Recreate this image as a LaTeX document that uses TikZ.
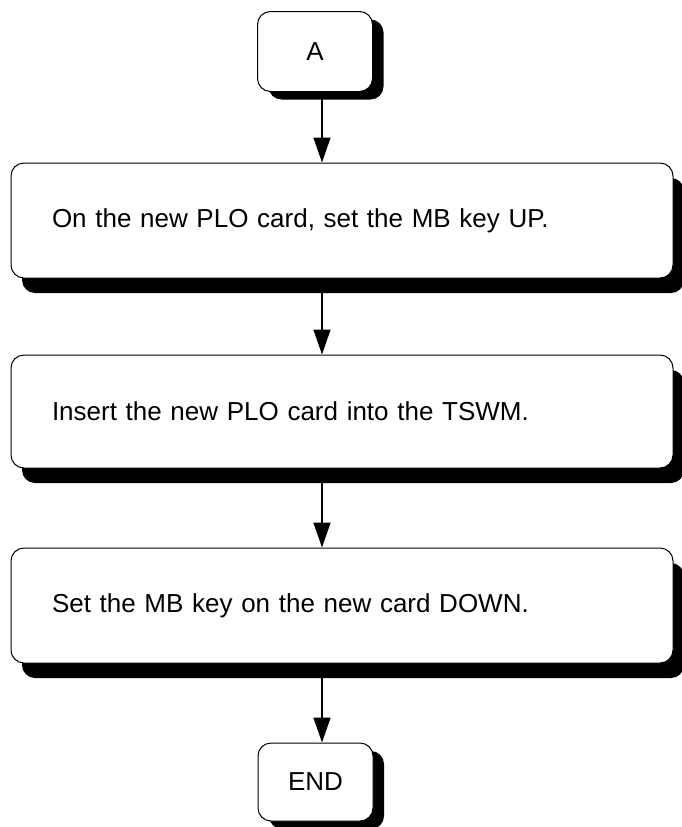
\documentclass[tikz,border=0pt]{standalone}
\usepackage{fontspec}
\setmainfont{Liberation Sans}
\usetikzlibrary{shadows,arrows.meta}
\begin{document}
\begin{tikzpicture}[x=1pt,y=-1pt,
  bigbox/.style={draw=black, line width=1pt, fill=white, rounded corners=13pt,
    minimum width=662pt, minimum height=114pt, text width=580pt, inner xsep=41pt,
    align=left, font=\fontsize{26pt}{30pt}\selectfont,
    drop shadow={shadow xshift=11pt, shadow yshift=-15pt, fill=black, opacity=1}},
  smallbox/.style={draw=black, line width=1pt, fill=white, rounded corners=13pt,
    minimum width=115pt, minimum height=80pt, inner sep=0pt,
    font=\fontsize{26pt}{30pt}\selectfont,
    drop shadow={shadow xshift=11pt, shadow yshift=-8pt, fill=black, opacity=1}},
  flow/.style={line width=1.6pt, -{Triangle[length=25pt,width=17pt]}}]
\useasboundingbox (0,0) rectangle (682,827);
\coordinate (ax) at (322,0);
\node[smallbox] (A) at (315,51.5) {A};
\node[bigbox, minimum height=115pt] (B1) at (342,220.5) {On the new PLO card, set the MB key UP.};
\node[bigbox, minimum height=113pt] (B2) at (342,411.5) {Insert the new PLO card into the TSWM.};
\node[bigbox, minimum height=115pt] (B3) at (342,605.5) {Set the MB key on the new card DOWN.};
\node[smallbox, minimum height=78pt] (E) at (315.5,782) {END};
\draw[flow] (A.south -| ax) -- (B1.north -| ax);
\draw[flow] (B1.south -| ax) -- (B2.north -| ax);
\draw[flow] (B2.south -| ax) -- (B3.north -| ax);
\draw[flow] (B3.south -| ax) -- (E.north -| ax);
\end{tikzpicture}
\end{document}
